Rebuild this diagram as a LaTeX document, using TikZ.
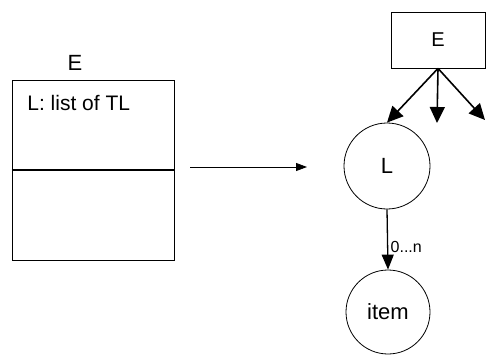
\documentclass[tikz,border=0pt]{standalone}
\usepackage{fontspec}
\setmainfont{Liberation Sans}
\usetikzlibrary{arrows.meta,positioning}
\tikzset{
  bigtxt/.style={font=\fontsize{22}{25}\selectfont},
  ring/.style={draw,circle,inner sep=0pt,bigtxt},
  fatarrow/.style={line width=1.6pt,-{Triangle[length=16pt,width=15pt]}},
}
\begin{document}
\begin{tikzpicture}[x=1pt,y=-1pt,line width=0.8pt]
        \useasboundingbox(0,0) rectangle (486,354);
        % left: the class box
        \node[draw,minimum width=162pt,minimum height=180pt,inner sep=0pt](cls) at (93,170){};
        \node[bigtxt,anchor=base,inner sep=0pt](clsname) at (75,70){E};
        \node[anchor=base west,font=\fontsize{21}{24}\selectfont,inner sep=0pt](attr) at (27,110){L: list of TL};
        \draw[line width=1.2pt](cls.west)--(cls.east);
        % right: the tree
        \node[draw,minimum width=94pt,minimum height=56pt,font=\fontsize{20}{23}\selectfont](ent) at (438,40){E};
        \node[ring,minimum size=86pt](L) at (387,166){L};
        \node[ring,minimum size=84pt](item) at (388,312){item};
        \coordinate(mid) at (437,123);
        \coordinate(rgt) at (485,120);
        \foreach \t in {L.north,mid,rgt}
        \draw[fatarrow](ent.south)--(\t);
        \draw[line width=1.3pt,-{Triangle[length=15pt,width=12pt]}](L.south)--(item.north)
            node[anchor=base west,font=\fontsize{16}{18}\selectfont,inner sep=0pt] at (390,252){0...n};
        % link between the two
        \coordinate(from) at (190,167);
        \coordinate(to) at (307,167);
        \draw[-{Triangle[length=11pt,width=8pt]}](from)--(to);
\end{tikzpicture}
\end{document}
